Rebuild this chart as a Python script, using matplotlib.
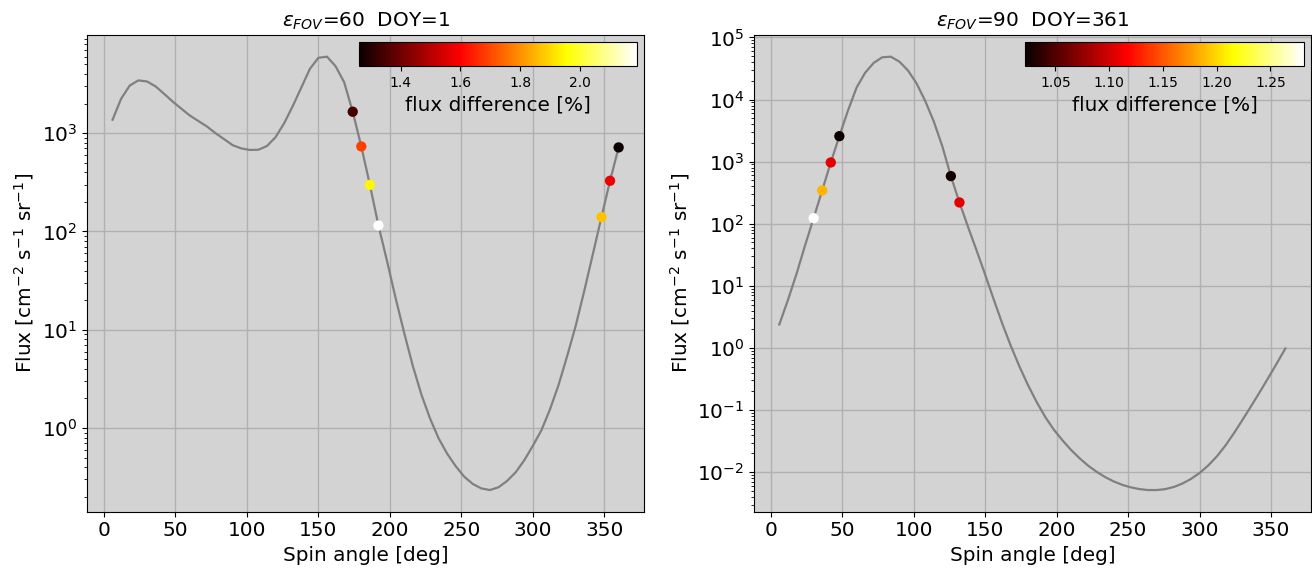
import numpy as np
import matplotlib
matplotlib.use("Agg")
import matplotlib.pyplot as plt
from mpl_toolkits.axes_grid1.inset_locator import inset_axes

# ---------------- data ----------------
spin_angle = list(range(6, 361, 6))

# left panel (eps_FOV=60, DOY=1) : flux
flux_left = [1370, 2240, 3050, 3440, 3360, 3000, 2520, 2100, 1780, 1514,
             1330, 1170, 1000, 870, 755, 700, 675, 678, 740, 910,
             1260, 1880, 2900, 4500, 5850, 6000, 4800, 3300, 1653, 733,
             298, 115, 50, 21, 9.3, 4.3, 2.2, 1.26, 0.79, 0.55,
             0.41, 0.32, 0.27, 0.243, 0.234, 0.25, 0.29, 0.355, 0.47, 0.66,
             0.95, 1.55, 2.75, 5.4, 11.0, 25, 59, 140, 328, 716]

# right panel (eps_FOV=90, DOY=361) : log10 flux
logflux_right = [0.378, 0.77, 1.19, 1.65, 2.09, 2.536, 2.987, 3.41, 3.82, 4.19,
                 4.43, 4.59, 4.68, 4.69, 4.61, 4.468, 4.26, 3.98, 3.65, 3.25,
                 2.767, 2.343, 1.95, 1.57, 1.18, 0.78, 0.39, 0.03, -0.30, -0.60,
                 -0.87, -1.11, -1.315, -1.485, -1.64, -1.775, -1.895, -1.995, -2.08, -2.15,
                 -2.205, -2.245, -2.273, -2.288, -2.288, -2.273, -2.238, -2.183, -2.108, -2.013,
                 -1.893, -1.748, -1.573, -1.373, -1.158, -0.938, -0.713, -0.483, -0.248, -0.008]
flux_right = [10 ** v for v in logflux_right]

# highlighted points: spin angle and flux difference [%]
pts_left_angle = [174, 180, 186, 192, 348, 354, 360]
pts_left_diff = [1.338, 1.688, 1.94, 2.19, 1.87, 1.576, 1.26]

pts_right_angle = [30, 36, 42, 48, 126, 132]
pts_right_diff = [1.281, 1.186, 1.105, 1.022, 1.026, 1.105]

titles = [r"$\varepsilon_{FOV}$=60  DOY=1", r"$\varepsilon_{FOV}$=90  DOY=361"]

# ---------------- plot ----------------
FS = 14.4
plt.rcParams["font.family"] = ["DejaVu Sans"]
fig = plt.figure(figsize=(13.12, 5.74), dpi=100)

positions = [[0.0665, 0.1085, 0.4243, 0.8305], [0.5747, 0.1085, 0.4243, 0.8305]]
curves = [flux_left, flux_right]
pts = [(pts_left_angle, pts_left_diff), (pts_right_angle, pts_right_diff)]

for pos, flux, (pa, pdiff), title in zip(positions, curves, pts, titles):
    ax = fig.add_axes(pos)
    ax.set_facecolor("lightgray")
    ax.plot(spin_angle, flux, color="gray", lw=1.6, zorder=2)
    pf = [flux[spin_angle.index(a)] for a in pa]
    sc = ax.scatter(pa, pf, c=pdiff, cmap="hot", s=55, zorder=3, edgecolors="none")
    ax.set_yscale("log")
    ax.grid(True, color="#b0b0b0", lw=1.0, zorder=0)
    ax.set_axisbelow(True)
    ax.set_xticks([0, 50, 100, 150, 200, 250, 300, 350])
    ax.tick_params(labelsize=FS)
    ax.set_xlabel("Spin angle [deg]", fontsize=FS)
    ax.set_ylabel(r"Flux [cm$^{-2}$ s$^{-1}$ sr$^{-1}$]", fontsize=FS)
    ax.set_title(title, fontsize=FS)
    cax = inset_axes(ax, width="50%", height="5%", loc="upper right")
    cb = fig.colorbar(sc, cax=cax, orientation="horizontal")
    cb.ax.tick_params(labelsize=10)
    cb.set_label("flux difference [%]", fontsize=FS)

fig.savefig("out.png", dpi=100)
